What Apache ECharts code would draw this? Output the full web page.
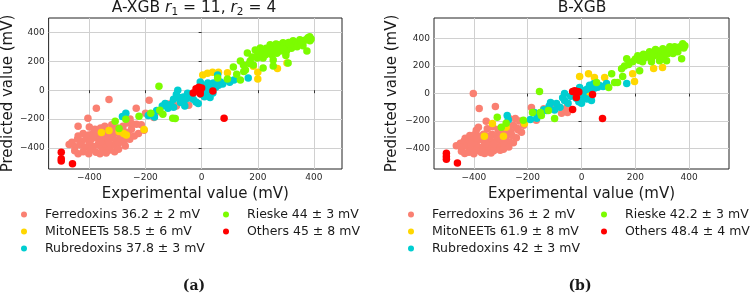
<!DOCTYPE html>
<html>
<head>
<meta charset="utf-8">
<script src="https://cdn.jsdelivr.net/npm/echarts@6/dist/echarts.min.js"></script>
<style>
  html, body { margin: 0; padding: 0; background: #fff; }
  #chart { width: 750px; height: 297px; }
</style>
</head>
<body>
<div id="chart"></div>
<script>
// protein families, in legend / draw order
const FAMILIES = ['Ferredoxins', 'MitoNEETs', 'Rubredoxins', 'Rieske', 'Others']
const FAMILY_COLORS = ['#FA8072', '#FFD700', '#00CED1', '#7CFC00', '#FF0000']

// mean abs. error per family, shown in legends
const ERRORS_A = ['36.2 ± 2', '58.5 ± 6', '37.8 ± 3', '44 ± 3', '45 ± 8']
const ERRORS_B = ['36 ± 2', '61.9 ± 8', '42 ± 3', '42.2 ± 3', '48.4 ± 4']

// [experimental, predicted] in mV, panel A (A-XGB)
const A_FERREDOXINS = [
  [-330, -65], [-375, -125], [-405, -195], [-440, -250], [-233, -125], [-187, -70], [-170, -190],
  [-103, -84], [-46, -105], [-60, -95], [-90, -110], [-120, -95], [-150, -150], [-200, -160], [-255, -200],
  [-400, -255], [-380, -270], [-360, -262], [-345, -250], [-320, -240], [-300, -262], [-280, -250],
  [-262, -228], [-248, -232], [-232, -236], [-215, -240], [-205, -278], [-250, -270], [-272, -290],
  [-292, -285], [-312, -280], [-336, -282],
  [-440, -318], [-422, -300], [-402, -310], [-386, -296], [-370, -302], [-356, -312], [-340, -296],
  [-326, -306], [-310, -300], [-290, -310], [-262, -300], [-240, -318], [-225, -300],
  [-462, -360], [-442, -340], [-426, -352], [-410, -336], [-396, -346], [-380, -330], [-366, -346],
  [-350, -336], [-336, -350], [-320, -330], [-306, -346], [-290, -336], [-276, -350], [-256, -340],
  [-345, -320], [-385, -315],
  [-472, -376], [-452, -390], [-432, -380], [-416, -396], [-400, -376], [-386, -390], [-370, -380],
  [-356, -396], [-340, -376], [-326, -390], [-310, -380], [-296, -370], [-272, -386], [-360, -360],
  [-330, -365], [-400, -360],
  [-452, -420], [-422, -426], [-396, -416], [-376, -430], [-350, -420], [-330, -416], [-310, -426],
  [-296, -410], [-402, -440], [-362, -440], [-440, -440], [-340, -436]
]
const A_MITONEETS = [
  [-357, -293], [-330, -280], [-294, -286], [-278, -300], [-268, -310], [-205, -272],
  [4, 105], [21, 118], [39, 125], [60, 125], [92, 120], [28, 7], [14, -7],
  [184, 165], [200, 125], [200, 78], [270, 150], [304, 188]
]
const A_RUBREDOXINS = [
  [-270, -160], [-282, -182], [-190, -175], [-168, -186], [-160, -140], [-130, -92], [-120, -125],
  [-100, -118], [-110, -100], [-140, -110], [-85, 0], [-80, -50], [-65, -48], [-50, -56], [-62, -72],
  [-40, -40], [-30, -62], [-20, -82], [-12, -92], [-90, -30], [-50, -22], [0, -30], [10, -46],
  [30, -50], [40, -20], [20, 14], [50, 20], [60, 35], [-5, 56], [0, 40], [22, 50], [30, 35],
  [42, 50], [67, 56], [75, 42], [92, 70], [100, 55], [115, 70], [57, 105], [166, 84],
  [-100, -62], [-60, -110], [-75, -85], [15, -15]
]
const A_RIESKE = [
  [-152, 28], [-308, -216], [-270, -202], [-294, -265], [-223, -181], [-181, -160], [-149, -139],
  [-138, -167], [-103, -195], [-94, -197],
  [57, 84], [92, 77], [138, 70], [113, 160], [125, 110], [150, 130],
  [138, 202], [149, 174], [156, 139], [163, 258], [173, 202], [184, 174], [191, 279], [198, 223],
  [209, 293], [219, 223], [219, 153], [234, 272], [244, 314], [251, 244], [255, 209], [255, 167],
  [262, 279], [273, 314], [280, 272], [290, 328], [304, 279], [308, 188], [315, 307], [326, 342],
  [350, 349], [361, 307], [375, 272], [379, 363], [386, 342],
  [200, 250], [215, 260], [228, 245], [240, 290], [248, 270], [260, 300], [268, 255], [285, 300],
  [295, 310], [300, 260], [310, 330], [320, 290], [330, 310], [338, 330], [345, 320], [355, 335],
  [365, 345], [372, 350], [385, 370], [390, 355], [180, 230], [170, 185], [230, 290], [265, 320],
  [275, 290], [290, 285], [340, 300], [300, 240]
]
const A_OTHERS = [
  [-500, -430], [-500, -475], [-500, -490], [-460, -510],
  [-20, 10], [-10, 20], [0, 15], [-5, 0], [-30, -20], [-5, -25], [-15, -5], [40, -5], [80, -195]
]

// [experimental, predicted] in mV, panel B (B-XGB)
const B_FERREDOXINS = [
  [-402, 0], [-380, -108], [-320, -94], [-354, -202], [-186, -101], [-246, -181], [-112, -72],
  [-74, -144], [-168, -195], [-52, -87], [-93, -87], [-52, -137], [-270, -180], [-230, -200],
  [-215, -230], [-140, -110], [-60, -115],
  [-391, -267], [-383, -245], [-350, -255], [-330, -240], [-310, -262], [-290, -250], [-270, -245],
  [-253, -231], [-240, -250], [-223, -282], [-235, -265], [-262, -278], [-285, -285], [-305, -280],
  [-432, -325], [-415, -305], [-398, -300], [-380, -310], [-364, -296], [-348, -308], [-332, -296],
  [-316, -306], [-300, -300], [-280, -312], [-258, -305], [-242, -322],
  [-450, -361], [-436, -345], [-420, -355], [-404, -338], [-390, -350], [-374, -334], [-360, -348],
  [-344, -338], [-330, -352], [-314, -334], [-298, -348], [-284, -338], [-268, -352], [-253, -357],
  [-340, -320], [-390, -320],
  [-465, -380], [-446, -392], [-428, -382], [-412, -396], [-396, -378], [-380, -392], [-364, -382],
  [-350, -396], [-334, -378], [-320, -392], [-304, -382], [-288, -372], [-270, -388], [-356, -364],
  [-324, -366], [-410, -366],
  [-446, -420], [-418, -426], [-392, -416], [-372, -428], [-348, -418], [-326, -416], [-302, -412],
  [-290, -404], [-400, -438], [-360, -436], [-434, -436], [-336, -432]
]
const B_MITONEETS = [
  [-331, -218], [-361, -310], [-290, -310], [-280, -245], [-212, -218],
  [-7, 123], [26, 144], [48, 116], [86, 116], [22, 0],
  [190, 144], [197, 87], [268, 181], [301, 188]
]
const B_RUBREDOXINS = [
  [-276, -159], [-272, -190], [-190, -188], [-166, -180], [-115, -65], [-175, -137], [-130, -123],
  [-93, -72], [-63, 0], [-63, -50], [-7, 43], [37, -51], [67, 58], [93, 72], [168, 72],
  [-40, -20], [-20, -35], [0, -10], [10, 20], [20, 30], [40, 30], [-30, 10], [-80, -100],
  [-100, -120], [-150, -140], [-120, -90], [-50, -70], [-10, -60], [20, -40], [50, 40], [45, 70],
  [80, 50], [0, -70], [-140, -118], [-70, -30], [30, 60], [60, 45], [-25, -15], [8, -25]
]
const B_RIESKE = [
  [-156, 15], [-313, -173], [-280, -216], [-298, -245], [-216, -195], [-182, -137], [-153, -137],
  [-123, -123], [-149, -159], [-100, -181],
  [56, 79], [101, 43], [123, 79], [134, 79], [112, 144], [153, 123],
  [149, 180], [168, 253], [190, 231], [209, 274], [227, 231], [242, 274], [253, 303], [264, 267],
  [279, 310], [290, 238], [302, 325], [320, 289], [328, 339], [346, 339], [358, 303], [372, 253],
  [376, 361], [384, 347], [216, 166], [316, 238],
  [175, 210], [200, 250], [215, 240], [235, 260], [248, 285], [258, 250], [270, 290], [285, 275],
  [295, 300], [305, 270], [312, 310], [325, 300], [335, 320], [340, 290], [350, 325], [362, 335],
  [368, 340], [380, 330], [160, 200], [230, 285], [275, 320], [295, 260], [310, 290], [260, 230]
]
const B_OTHERS = [
  [-502, -433], [-502, -457], [-502, -477], [-461, -505],
  [-33, 15], [-15, 15], [-19, -29], [-33, -116], [41, -7], [78, -181], [-25, 20], [-10, 10]
]

const PANEL_A = [A_FERREDOXINS, A_MITONEETS, A_RUBREDOXINS, A_RIESKE, A_OTHERS]
const PANEL_B = [B_FERREDOXINS, B_MITONEETS, B_RUBREDOXINS, B_RIESKE, B_OTHERS]

const FONT = 'DejaVu Sans'
const GRID_COLOR = '#d0d0d0'
const TEXT_COLOR = '#1a1a1a'

const minusSign = (v) => String(v).replace('-', '\u2212')

const legendNames = (errors) => FAMILIES.map((f, i) => `${f} ${errors[i]} mV`)
const NAMES_A = legendNames(ERRORS_A)
const NAMES_B = legendNames(ERRORS_B)

const buildXAxis = (gridIndex, min, max) => ({
  gridIndex,
  type: 'value',
  min,
  max,
  name: 'Experimental value (mV)',
  nameLocation: 'middle',
  nameGap: 15,
  nameTextStyle: { fontSize: 15, color: TEXT_COLOR, fontFamily: FONT },
  axisLine: { show: false },
  axisTick: { show: true, length: 3, lineStyle: { color: '#333' } },
  axisLabel: {
    fontSize: 9, color: '#2a2a2a', margin: 4, fontFamily: FONT,
    showMinLabel: false, showMaxLabel: false, formatter: minusSign
  },
  splitLine: { show: true, showMinLine: false, showMaxLine: false, lineStyle: { color: GRID_COLOR, width: 1 } }
})

const buildYAxis = (gridIndex, min, max, nameGap) => ({
  gridIndex,
  type: 'value',
  min,
  max,
  name: 'Predicted value (mV)',
  nameLocation: 'middle',
  nameRotate: 90,
  nameGap,
  nameTextStyle: { fontSize: 15, color: TEXT_COLOR, fontFamily: FONT },
  axisLine: { show: false },
  axisTick: { show: true, length: 3, lineStyle: { color: '#333' } },
  axisLabel: {
    fontSize: 9, color: '#2a2a2a', margin: 4, fontFamily: FONT,
    showMinLabel: false, showMaxLabel: false, formatter: minusSign
  },
  splitLine: { show: true, showMinLine: false, showMaxLine: false, lineStyle: { color: GRID_COLOR, width: 1 } }
})

const buildSeries = (panel, names, axisIndex) =>
  panel.map((points, i) => ({
    name: names[i],
    type: 'scatter',
    xAxisIndex: axisIndex,
    yAxisIndex: axisIndex,
    data: points,
    symbolSize: 7.5,
    itemStyle: { color: FAMILY_COLORS[i], opacity: 1 },
    emphasis: { disabled: true },
    z: 2 + i
  }))

const buildLegend = (left, names) => ({
  left,
  top: 206,
  orient: 'vertical',
  padding: 0,
  itemWidth: 32,
  itemHeight: 6,
  itemGap: 0,
  icon: 'circle',
  selectedMode: false,
  data: names,
  textStyle: { fontSize: 12.5, lineHeight: 17, color: TEXT_COLOR, fontFamily: FONT }
})

const titleRich = {
  n: { fontSize: 15.5, fontFamily: FONT, fill: TEXT_COLOR },
  i: { fontSize: 15.5, fontFamily: FONT, fontStyle: 'italic', fill: TEXT_COLOR },
  s: { fontSize: 10.5, fontFamily: FONT, fill: TEXT_COLOR, padding: [8, 0, 0, 0] }
}

const option = {
  animation: false,
  backgroundColor: '#fff',
  textStyle: { fontFamily: FONT },
  grid: [
    { left: 47, top: 18, width: 295, height: 151, show: true, borderColor: '#222', borderWidth: 1, backgroundColor: 'transparent' },
    { left: 434, top: 18, width: 295, height: 151, show: true, borderColor: '#222', borderWidth: 1, backgroundColor: 'transparent' }
  ],
  xAxis: [buildXAxis(0, -545, 500), buildXAxis(1, -548, 548)],
  yAxis: [buildYAxis(0, -546, 500, 31), buildYAxis(1, -548, 548, 34)],
  legend: [
    buildLegend(21, NAMES_A.slice(0, 3)),
    buildLegend(223, NAMES_A.slice(3)),
    buildLegend(408, NAMES_B.slice(0, 3)),
    buildLegend(601, NAMES_B.slice(3))
  ],
  graphic: [
    {
      type: 'text', x: 194, y: 8, z: 10,
      style: {
        text: '{n|A-XGB }{i|r}{s|1}{n| = 11, }{i|r}{s|2}{n| = 4}',
        rich: titleRich, align: 'center', verticalAlign: 'middle'
      }
    },
    {
      type: 'text', x: 582, y: 8, z: 10,
      style: { text: 'B-XGB', font: `15.5px "${FONT}"`, fill: TEXT_COLOR, align: 'center', verticalAlign: 'middle' }
    },
    {
      type: 'text', x: 194, y: 286, z: 10,
      style: { text: '(a)', font: 'bold 14px "DejaVu Serif"', fill: TEXT_COLOR, align: 'center', verticalAlign: 'middle' }
    },
    {
      type: 'text', x: 580, y: 286, z: 10,
      style: { text: '(b)', font: 'bold 14px "DejaVu Serif"', fill: TEXT_COLOR, align: 'center', verticalAlign: 'middle' }
    }
  ],
  series: [...buildSeries(PANEL_A, NAMES_A, 0), ...buildSeries(PANEL_B, NAMES_B, 1)]
}

const chart = echarts.init(document.getElementById('chart'))
chart.setOption(option)
</script>
</body>
</html>
